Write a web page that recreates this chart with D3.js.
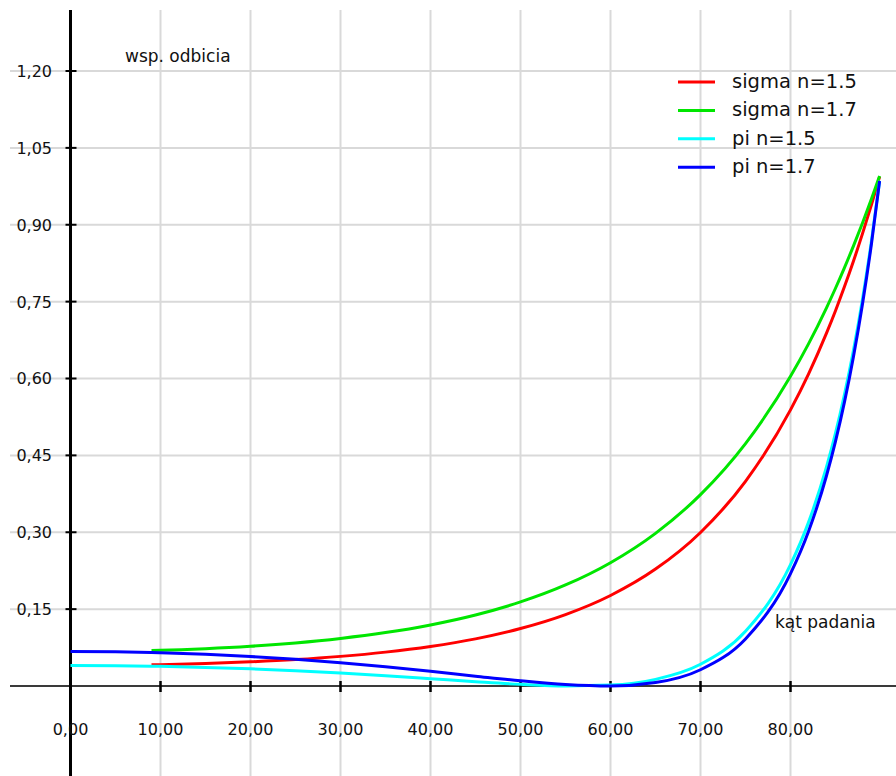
<html>
<head>
<meta charset="utf-8">
<title>wsp. odbicia</title>
<script src="https://cdn.jsdelivr.net/npm/d3@7"></script>
<style>
body { margin: 0; background: #fff; }
text { font-family: "DejaVu Sans", sans-serif; fill: #111; }
.grid line { stroke: #d9d9d9; stroke-width: 2px; }
.curve { fill: none; stroke-width: 3px; }
</style>
</head>
<body>
<script>
// katy padania (stopnie)
var angles = [0, 5, 9, 10, 15, 20, 25, 30, 35, 40, 45, 50, 55, 60, 65, 70, 75, 80, 82, 84, 85, 86, 87, 88, 89, 89.9];
var sigma15 = [null, null, 0.0414, 0.0417, 0.0438, 0.0471, 0.0516, 0.0578, 0.0661, 0.0772, 0.0920, 0.1121, 0.1393, 0.1766, 0.2281, 0.2996, 0.3994, 0.5387, 0.6086, 0.6884, 0.7323, 0.7793, 0.8293, 0.8826, 0.9395, 0.9938];
var sigma17 = [null, null, 0.0693, 0.0697, 0.0729, 0.0776, 0.0841, 0.0928, 0.1042, 0.1192, 0.1386, 0.1640, 0.1971, 0.2406, 0.2979, 0.3734, 0.4730, 0.6042, 0.6675, 0.7380, 0.7761, 0.8164, 0.8588, 0.9035, 0.9505, 0.9949];
var pi15 = [0.0400, 0.0396, 0.0387, 0.0384, 0.0363, 0.0335, 0.0298, 0.0253, 0.0200, 0.0143, 0.0085, 0.0033, 0.0002, 0.0018, 0.0130, 0.0425, 0.1068, 0.2368, 0.3193, 0.4273, 0.4932, 0.5689, 0.6555, 0.7548, 0.8689, 0.9860];
var pi17 = [0.0672, 0.0666, 0.0653, 0.0648, 0.0618, 0.0575, 0.0520, 0.0453, 0.0374, 0.0286, 0.0192, 0.0101, 0.0029, 0.0000, 0.0067, 0.0317, 0.0919, 0.2193, 0.3015, 0.4103, 0.4772, 0.5543, 0.6431, 0.7454, 0.8635, 0.9854];

var seriesNames = ["sigma n=1.5", "sigma n=1.7", "pi n=1.5", "pi n=1.7"];
var seriesColors = ["#ff0000", "#00e600", "#00ffff", "#0000ff"];
var seriesValues = [sigma15, sigma17, pi15, pi17];

var xTicks = [0, 10, 20, 30, 40, 50, 60, 70, 80];
var yTicks = [0.15, 0.30, 0.45, 0.60, 0.75, 0.90, 1.05, 1.20];

var width = 896, height = 776;

var pl = d3.formatLocale({decimal: ",", thousands: ".", grouping: [3], currency: ["", ""]});
var fmt = pl.format(".2f");

var x = d3.scaleLinear().domain([0, 90]).range([70.5, 880.5]);
var y = d3.scaleLinear().domain([0, 1.2]).range([686, 71]);

var svg = d3.select("body").append("svg").attr("width", width).attr("height", height);

// siatka
var grid = svg.append("g").attr("class", "grid");
grid.selectAll("line.v").data(xTicks.slice(1)).enter().append("line").attr("class", "v")
  .attr("x1", function(d){ return x(d); }).attr("x2", function(d){ return x(d); })
  .attr("y1", 10).attr("y2", height);
grid.selectAll("line.h").data(yTicks).enter().append("line").attr("class", "h")
  .attr("x1", 10).attr("x2", width)
  .attr("y1", function(d){ return y(d); }).attr("y2", function(d){ return y(d); });

// os X
svg.append("line").attr("x1", 10).attr("x2", width).attr("y1", y(0)).attr("y2", y(0))
  .attr("stroke", "#3a3a3a").attr("stroke-width", 2);

// os Y
svg.append("line").attr("x1", x(0)).attr("x2", x(0)).attr("y1", 10).attr("y2", height)
  .attr("stroke", "#000").attr("stroke-width", 3);

svg.selectAll("line.ytick").data(yTicks).enter().append("line").attr("class", "ytick")
  .attr("x1", x(0) - 5).attr("x2", x(0) + 6)
  .attr("y1", function(d){ return y(d); }).attr("y2", function(d){ return y(d); })
  .attr("stroke", "#000").attr("stroke-width", 2);

svg.selectAll("line.xtick").data(xTicks).enter().append("line").attr("class", "xtick")
  .attr("x1", function(d){ return x(d); }).attr("x2", function(d){ return x(d); })
  .attr("y1", y(0) - 5).attr("y2", y(0) + 6)
  .attr("stroke", "#000").attr("stroke-width", 2.5);

svg.selectAll("text.ylab").data(yTicks).enter().append("text").attr("class", "ylab")
  .attr("x", 52).attr("y", function(d){ return y(d); }).attr("dy", "0.37em")
  .attr("text-anchor", "end").style("font-size", "16px")
  .text(function(d){ return fmt(d); });

svg.selectAll("text.xlab").data(xTicks).enter().append("text").attr("class", "xlab")
  .attr("x", function(d){ return x(d); }).attr("y", 735)
  .attr("text-anchor", "middle").style("font-size", "16px")
  .text(function(d){ return fmt(d); });

svg.append("text").attr("x", 125).attr("y", 62).style("font-size", "17px").text("wsp. odbicia");
svg.append("text").attr("x", 775).attr("y", 628).style("font-size", "17px").text("kąt padania");

// krzywe
var line = d3.line()
  .defined(function(d){ return d[1] !== null; })
  .x(function(d){ return x(d[0]); })
  .y(function(d){ return y(d[1]); })
  .curve(d3.curveMonotoneX);

seriesValues.forEach(function(vals, i){
  var pts = angles.map(function(a, j){ return [a, vals[j]]; });
  svg.append("path").attr("class", "curve")
    .attr("d", line(pts))
    .attr("stroke", seriesColors[i]);
});

// legenda
var leg = svg.append("g");
leg.selectAll("line").data(seriesNames).enter().append("line")
  .attr("x1", 678).attr("x2", 715)
  .attr("y1", function(d, i){ return 82 + i * 28.4; }).attr("y2", function(d, i){ return 82 + i * 28.4; })
  .attr("stroke", function(d, i){ return seriesColors[i]; }).attr("stroke-width", 3);
leg.selectAll("text").data(seriesNames).enter().append("text")
  .attr("x", 732).attr("y", function(d, i){ return 88 + i * 28.4; })
  .style("font-size", "19.5px")
  .text(function(d){ return d; });
</script>
</body>
</html>
